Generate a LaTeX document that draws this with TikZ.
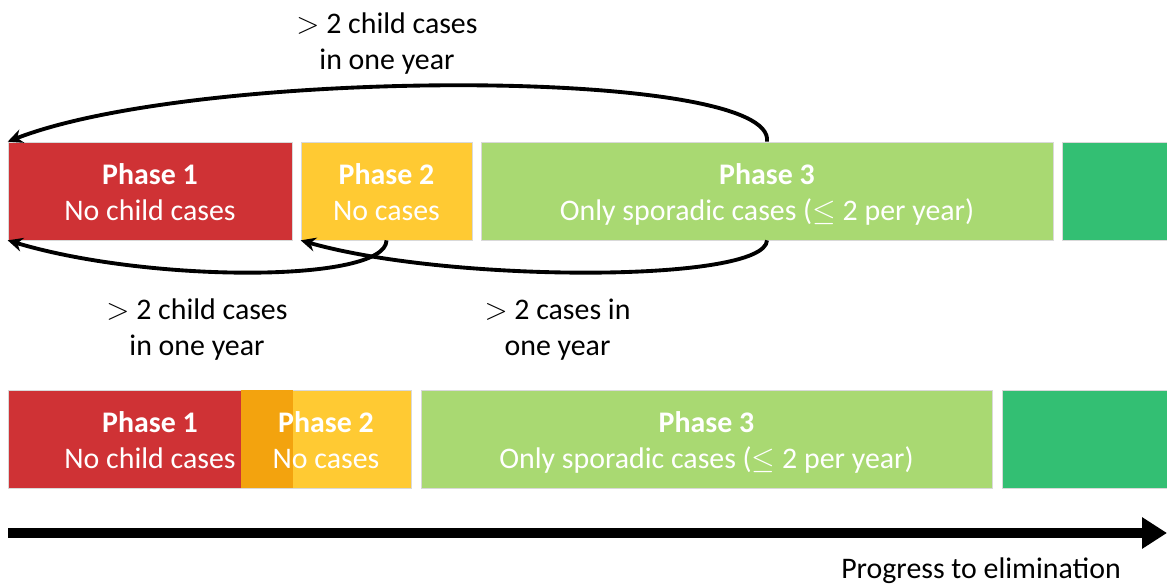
\documentclass[tikz,border=0pt]{standalone}
\usepackage{fontspec}
\setmainfont{Carlito}
\usetikzlibrary{arrows.meta}
\definecolor{phaseone}{RGB}{207,50,53}
\definecolor{phasetwo}{RGB}{255,202,51}
\definecolor{overlap}{RGB}{243,163,14}
\definecolor{phasethree}{RGB}{169,217,114}
\definecolor{phasefour}{RGB}{51,191,115}
\begin{document}
\begin{tikzpicture}[x=0.02cm,y=0.02cm,>={Stealth[length=0.3cm,width=0.28cm]},line width=2.2pt,font=\fontsize{17pt}{20.4pt}\selectfont,
  phase/.style={draw=black!15,line width=0.4pt,minimum height=1.96cm,inner sep=0pt},
  phasetext/.style={text=white,align=center,yshift=-0.12cm,execute at begin node=\strut,execute at end node=\strut},
  cond/.style={align=center}]
  \useasboundingbox (0,0) rectangle (1167,583);
  \node[phase, fill=phaseone, minimum width=5.68cm] (p1) at (150,392) {};
  \node[phase, fill=phasetwo, minimum width=3.42cm] (p2) at (386.5,392) {};
  \node[phase, fill=phasethree, minimum width=11.44cm] (p3) at (767,392) {};
  \node[phase, fill=phasefour, minimum width=2.2cm] (p4) at (1117,392) {};
  \node[phasetext] (t1) at (p1) {\textbf{Phase 1}\\No child cases};
  \node[phasetext] (t2) at (p2) {\textbf{Phase 2}\\No cases};
  \node[phasetext] (t3) at (p3) {\textbf{Phase 3}\\Only sporadic cases ($\leq$ 2 per year)};
  \node[phase, fill=phasetwo, minimum width=3.4cm] (q2) at (326,144) {};
  \node[phase, fill=phaseone, minimum width=5.68cm] (q1) at (150,144) {};
  \fill[overlap] (q2.north west) rectangle ([xshift=0.3pt]q1.south east);
  \node[phase, fill=phasethree, minimum width=11.42cm] (q3) at (706.5,144) {};
  \node[phase, fill=phasefour, minimum width=3.4cm] (q4) at (1087,144) {};
  \node[phasetext] (s1) at (q1) {\textbf{Phase 1}\\No child cases};
  \node[phasetext] (s2) at (q2) {\textbf{Phase 2}\\No cases};
  \node[phasetext] (s3) at (q3) {\textbf{Phase 3}\\Only sporadic cases ($\leq$ 2 per year)};
  \draw[->] (p3.north) .. controls (777,516) and (200,516) .. (p1.north west);
  \draw[->] (p2.south) .. controls (386,300) and (150,300) .. (p1.south west);
  \draw[->] (p3.south) .. controls (765,300) and (450,300) .. (p2.south west);
  \node[cond] (up) at (387,539.5) {$>$ 2 child cases\\in one year};
  \node[cond] (downone) at (197,253.5) {$>$ 2 child cases\\in one year};
  \node[cond] (downtwo) at (557.5,253.5) {$>$ 2 cases in\\one year};
  \coordinate (start) at (8,50);
  \coordinate (goal) at (1167,50);
  \draw[line width=0.2cm, -{Triangle[length=0.5cm,width=0.6cm]}] (start) -- (goal);
  \node[anchor=base] (progress) at (981,5) {Progress to elimination};
\end{tikzpicture}
\end{document}
